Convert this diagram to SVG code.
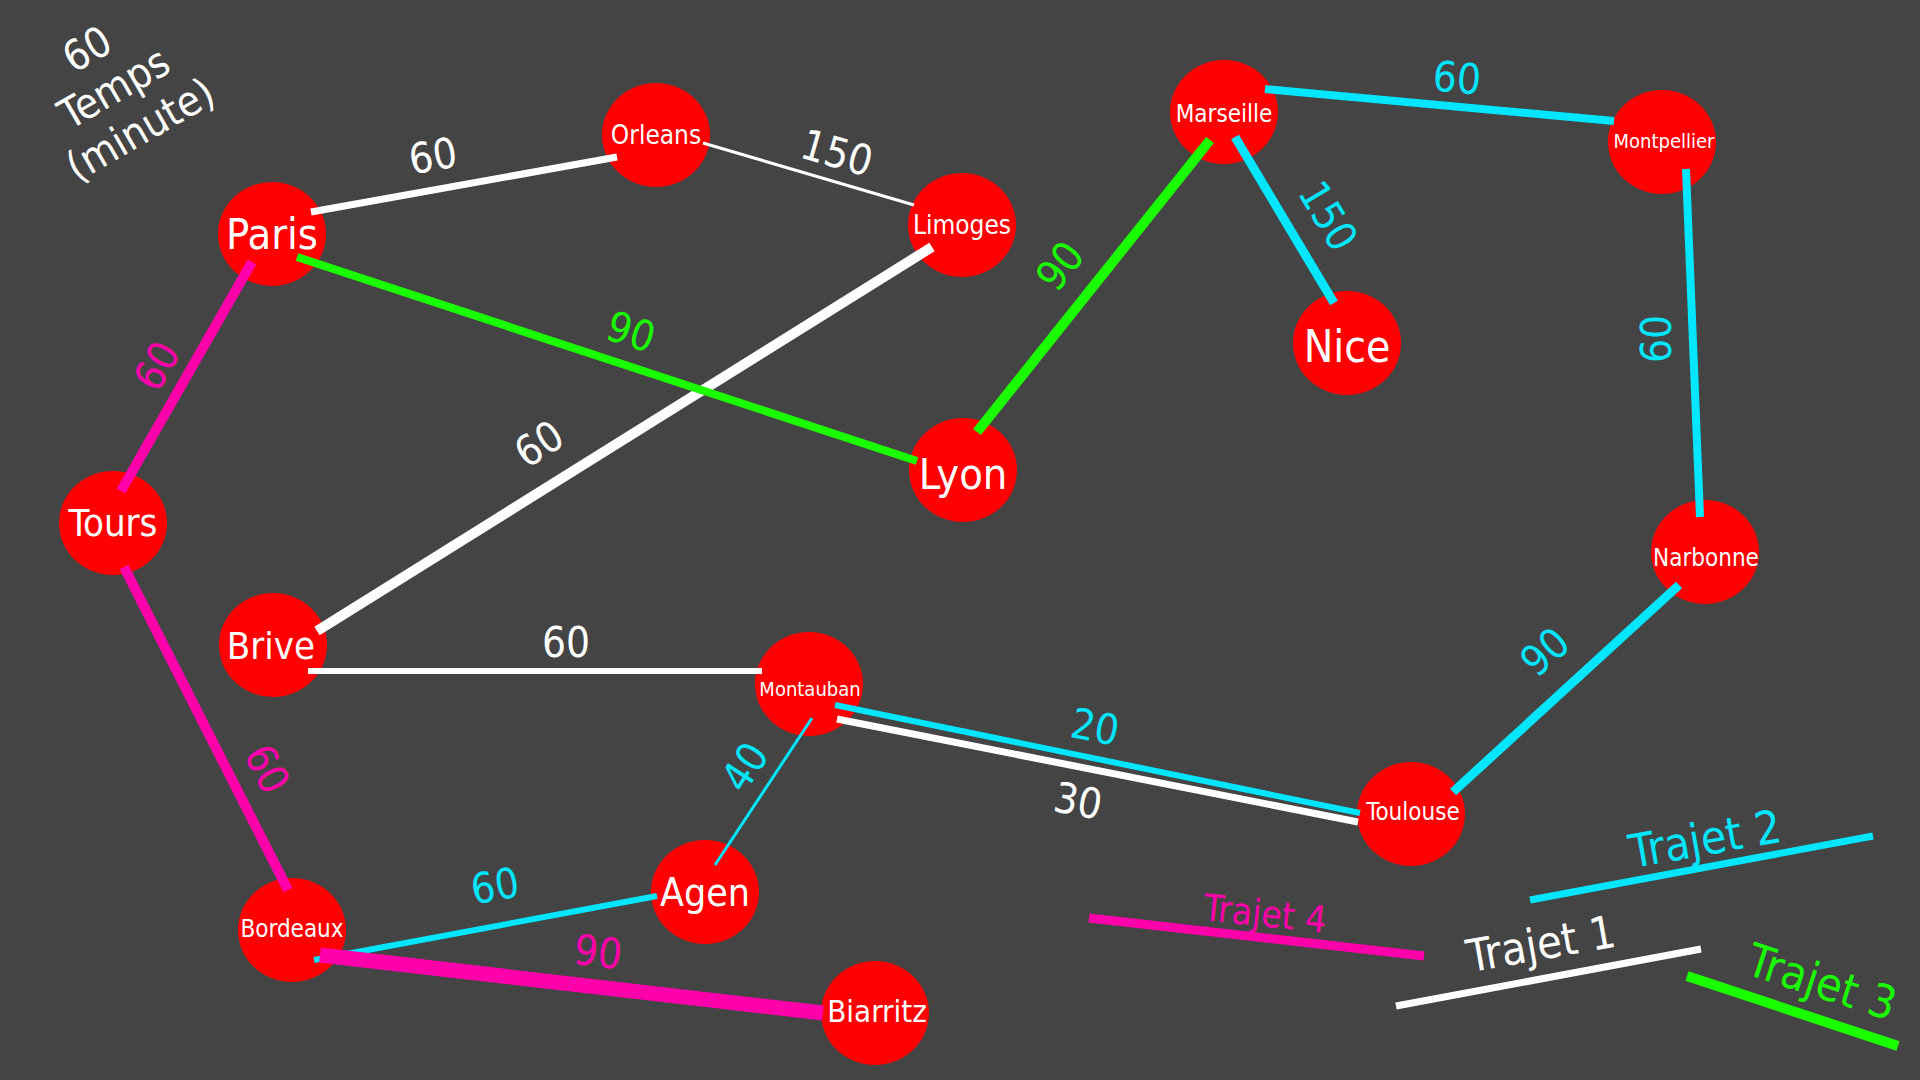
<svg xmlns="http://www.w3.org/2000/svg" width="1920" height="1080" viewBox="0 0 1920 1080">
<style>
text{font-family:"DejaVu Sans Condensed","DejaVu Sans",sans-serif;text-anchor:middle;dominant-baseline:central}
.node ellipse{fill:#ff0000}
.node text{fill:#ffffff}
.e{fill:none;stroke-linecap:butt}
.w{stroke:#ffffff}
.p{stroke:#ff00aa}
.g{stroke:#1aff00}
.c{stroke:#00e6ff}
.lw{fill:#ffffff;font-size:42px}
.lp{fill:#ff00aa;font-size:42px}
.lg{fill:#1aff00;font-size:42px}
.lc{fill:#00e6ff;font-size:42px}
</style>
<rect width="1920" height="1080" fill="#444444"/>
<g id="title" transform="translate(114,88) rotate(-30)" font-size="42">
<text x="-4" y="-47" fill="#ffffff">60</text>
<text x="0" y="0" fill="#ffffff">Temps</text>
<text x="2" y="49" fill="#ffffff">(minute)</text>
</g>
<g id="node-paris" class="node"><ellipse cx="272" cy="234" rx="54" ry="52"/><text x="272" y="234" font-size="43">Paris</text></g>
<g id="node-orleans" class="node"><ellipse cx="656" cy="135" rx="54" ry="52"/><text x="656" y="135" font-size="26">Orleans</text></g>
<g id="node-limoges" class="node"><ellipse cx="962" cy="225" rx="54" ry="52"/><text x="962" y="225" font-size="26">Limoges</text></g>
<g id="node-lyon" class="node"><ellipse cx="963" cy="470" rx="54" ry="52"/><text x="963" y="474" font-size="43">Lyon</text></g>
<g id="node-marseille" class="node"><ellipse cx="1224" cy="112" rx="54" ry="52"/><text x="1224" y="114" font-size="24">Marseille</text></g>
<g id="node-montpellier" class="node"><ellipse cx="1662" cy="142" rx="54" ry="52"/><text x="1664" y="141" font-size="20">Montpellier</text></g>
<g id="node-nice" class="node"><ellipse cx="1347" cy="343" rx="54" ry="52"/><text x="1347" y="346" font-size="44">Nice</text></g>
<g id="node-narbonne" class="node"><ellipse cx="1705" cy="552" rx="54" ry="52"/><text x="1706" y="558" font-size="24">Narbonne</text></g>
<g id="node-tours" class="node"><ellipse cx="113" cy="523" rx="54" ry="52"/><text x="113" y="523" font-size="38">Tours</text></g>
<g id="node-brive" class="node"><ellipse cx="273" cy="645" rx="54" ry="52"/><text x="271" y="646" font-size="38">Brive</text></g>
<g id="node-montauban" class="node"><ellipse cx="809" cy="684" rx="54" ry="52"/><text x="810" y="689" font-size="20">Montauban</text></g>
<g id="node-toulouse" class="node"><ellipse cx="1411" cy="814" rx="54" ry="52"/><text x="1413" y="812" font-size="24">Toulouse</text></g>
<g id="node-agen" class="node"><ellipse cx="705" cy="892" rx="54" ry="52"/><text x="705" y="892" font-size="39">Agen</text></g>
<g id="node-bordeaux" class="node"><ellipse cx="292" cy="930" rx="54" ry="52"/><text x="292" y="929" font-size="24">Bordeaux</text></g>
<g id="node-biarritz" class="node"><ellipse cx="875" cy="1013" rx="54" ry="52"/><text x="877" y="1011" font-size="31">Biarritz</text></g>
<g id="connectors">
<line class="e w" x1="311" y1="212" x2="617" y2="157" stroke-width="7"/>
<line class="e w" x1="703" y1="143" x2="914" y2="205" stroke-width="3"/>
<line class="e w" x1="932" y1="247" x2="317" y2="631" stroke-width="10"/>
<line class="e w" x1="308" y1="671" x2="762" y2="671" stroke-width="6"/>
<line class="e w" x1="837" y1="719" x2="1358" y2="822" stroke-width="7"/>
<line class="e c" x1="835" y1="705" x2="1360" y2="813" stroke-width="6"/>
<line class="e g" x1="297" y1="257" x2="917" y2="461" stroke-width="8"/>
<line class="e g" x1="977" y1="432" x2="1210" y2="140" stroke-width="10"/>
<line class="e c" x1="1265" y1="89" x2="1614" y2="121" stroke-width="8"/>
<line class="e c" x1="1235" y1="137" x2="1334" y2="303" stroke-width="9"/>
<line class="e c" x1="1686" y1="169" x2="1700" y2="517" stroke-width="8"/>
<line class="e c" x1="1679" y1="585" x2="1453" y2="792" stroke-width="9"/>
<line class="e c" x1="812" y1="718" x2="715" y2="865" stroke-width="3"/>
<line class="e c" x1="314" y1="960" x2="657" y2="896" stroke-width="6"/>
<line class="e p" x1="252" y1="262" x2="121" y2="491" stroke-width="10"/>
<line class="e p" x1="124" y1="567" x2="288" y2="890" stroke-width="10"/>
<line class="e p" x1="320" y1="955" x2="823" y2="1013" stroke-width="15"/>
<line class="e p" x1="1089" y1="918" x2="1424" y2="956" stroke-width="9"/>
<line class="e w" x1="1396" y1="1006" x2="1701" y2="949" stroke-width="7"/>
<line class="e c" x1="1530" y1="900" x2="1873" y2="836" stroke-width="7"/>
<line class="e g" x1="1687" y1="976" x2="1898" y2="1046" stroke-width="10"/>
<text class="lw" transform="translate(433,156) rotate(-10)">60</text>
<text class="lw" transform="translate(837,153) rotate(16)">150</text>
<text class="lw" transform="translate(539,444) rotate(-33)">60</text>
<text class="lw" transform="translate(566,642)">60</text>
<text class="lw" transform="translate(1078,801) rotate(11)">30</text>
<text class="lc" transform="translate(1095,727) rotate(11)">20</text>
<text class="lg" transform="translate(631,332) rotate(18)">90</text>
<text class="lg" transform="translate(1060,266) rotate(-52)">90</text>
<text class="lc" transform="translate(1457,78) rotate(5)">60</text>
<text class="lc" transform="translate(1328,216) rotate(59)">150</text>
<text class="lc" transform="translate(1656,339) rotate(-90)">60</text>
<text class="lc" transform="translate(1545,652) rotate(-42)">90</text>
<text class="lc" transform="translate(745,767) rotate(-57)">40</text>
<text class="lc" transform="translate(495,886) rotate(-10)">60</text>
<text class="lp" transform="translate(598,952) rotate(7)">90</text>
<text class="lp" transform="translate(157,366) rotate(-60)">60</text>
<text class="lp" transform="translate(267,769) rotate(63)">60</text>
<text class="lp" transform="translate(1265,914) rotate(6)" style="font-size:37px">Trajet 4</text>
<text class="lw" transform="translate(1541,944) rotate(-10)" style="font-size:45px">Trajet 1</text>
<text class="lc" transform="translate(1705,839) rotate(-10)" style="font-size:46px">Trajet 2</text>
<text class="lg" transform="translate(1822,982) rotate(18)" style="font-size:46px">Trajet 3</text>
</g>
</svg>
